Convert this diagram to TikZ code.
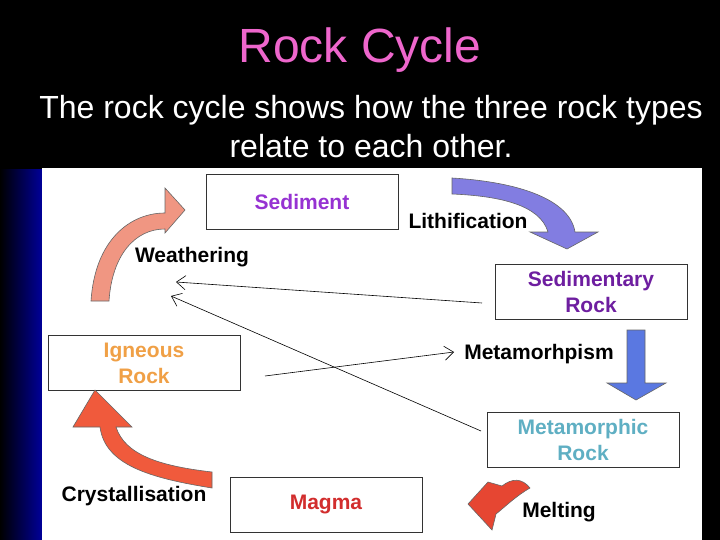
\documentclass[tikz,border=0pt]{standalone}
\usepackage{fontspec}
\setmainfont{Liberation Sans}
\usetikzlibrary{arrows.meta}
\definecolor{ttl}{HTML}{EE66CC}
\begin{document}
\begin{tikzpicture}[x=1pt,y=-1pt,
  box/.style={draw=black!80,line width=0.8pt,fill=white,minimum width=192pt,minimum height=55pt,inner sep=0pt,font=\bfseries\fontsize{21}{26}\selectfont,align=center},
  lbl/.style={font=\bfseries\fontsize{21}{25}\selectfont,text=black},
  conn/.style={line width=0.6pt,-{Straight Barb[length=9pt,width=14pt,line width=0.6pt]}},
  blk/.style={draw=black!60,line width=0.6pt}]
\fill[black] (0,0) rectangle (720,540);
\shade[left color=black,right color=blue!60!black] (0,170) rectangle (42,540);
\fill[white] (42,168) rectangle (702,540);
\node[text=ttl,font=\fontsize{48}{54}\selectfont] (title) at (360,50) {Rock Cycle};
\node[text=white,font=\fontsize{32}{39}\selectfont,align=center] (sub) at (371,127) {The rock cycle shows how the three rock types\\relate to each other.};
\node[box,text={rgb,255:red,150;green,50;blue,210}] (sed) at (302,202) {Sediment};
\node[box,text={rgb,255:red,110;green,30;blue,160}] (sr) at (591,291.5) {Sedimentary\\Rock};
\node[box,text={rgb,255:red,240;green,160;blue,70}] (ig) at (144,363) {Igneous\\Rock};
\node[box,text={rgb,255:red,95;green,175;blue,195}] (mr) at (583,440) {Metamorphic\\Rock};
\node[box,text={rgb,255:red,210;green,45;blue,45}] (mg) at (326,504.5) {Magma};
\node[lbl] (w) at (192,257) {Weathering};
\node[lbl] (li) at (468,221) {Lithification};
\node[lbl] (me) at (539,354) {Metamorhpism};
\node[lbl] (cr) at (134,496) {Crystallisation};
\node[lbl] (ml) at (559,512) {Melting};
\coordinate (a1) at (176,282);
\coordinate (a2) at (171,296);
\coordinate (a3) at (454,352);
\coordinate (s1) at (482,303);
\coordinate (s2) at (481,431);
\coordinate (s3) at (265,376);
\draw[conn] (s1) -- (a1);
\draw[conn] (s2) -- (a2);
\draw[conn] (s3) -- (a3);
% weathering arrow
\filldraw[blk,fill={rgb,255:red,240;green,150;blue,130}]
 (91,301) .. controls (95,240) and (130,213) .. (165,213) -- (165,188) -- (185,210) -- (165,233) -- (165,229)
 .. controls (135,229) and (112,255) .. (109,301) -- cycle;
% crystallisation arrow
\filldraw[blk,fill={rgb,255:red,240;green,90;blue,60}]
 (212,488) .. controls (150,478) and (105,465) .. (100,427) -- (73,427) -- (95,390) -- (132,427) -- (116,427)
 .. controls (125,455) and (160,466) .. (212,472) -- cycle;
% lithification arrow
\filldraw[blk,fill={rgb,255:red,130;green,125;blue,225}]
 (452,178) .. controls (520,182) and (570,200) .. (575,232) -- (598,232) -- (567,249) -- (530,232) -- (548,232)
 .. controls (540,205) and (500,196) .. (452,194) -- cycle;
% metamorphism arrow
\filldraw[blk,fill={rgb,255:red,90;green,120;blue,225}]
 (627,330) -- (645,330) -- (645,383) -- (666,383) -- (636,400) -- (607,383) -- (627,383) -- cycle;
% melting arrow
\filldraw[blk,fill={rgb,255:red,230;green,70;blue,50}]
 (530,488) .. controls (522,478) and (512,478) .. (502,486) -- (488,482) -- (468,504) -- (492,530) -- (496,514)
 .. controls (506,506) and (516,496) .. (530,488) -- cycle;
\end{tikzpicture}
\end{document}
